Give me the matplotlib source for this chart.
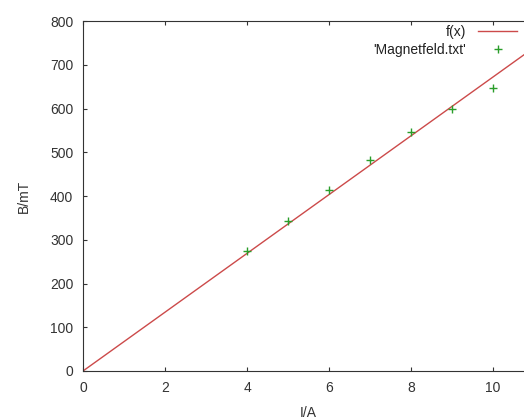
import numpy as np
import matplotlib.pyplot as plt

# measured values from Magnetfeld.txt
current = [4, 5, 6, 7, 8, 9, 10]
field = [274, 343, 413, 482, 547, 600, 648]

# fitted slope of f(x) = a*x
slope = 67.2
x_range = [0, 11]


def plot(I, B, a):
    fig = plt.figure(figsize=(5.24, 4.19), dpi=100)
    ax = fig.add_axes([83 / 524, 1 - 371 / 419, (534 - 83) / 524, 350 / 419])

    xs = np.array(x_range)
    ax.plot(xs, a * xs, color='#cc4a4a', linewidth=1.0, label='f(x)')
    ax.plot(I, B, '+', color='#2a9e2a', markersize=6, markeredgewidth=1.0,
            label="'Magnetfeld.txt'")

    ax.set_xlim(*x_range)
    ax.set_ylim(0, 800)
    ax.set_xticks(range(0, 12, 2))
    ax.set_yticks(range(0, 900, 100))
    ax.tick_params(direction='in', length=3, top=True, right=True,
                   labelsize=10, colors='#333333', pad=7)
    for s in ax.spines.values():
        s.set_color('#333333')

    ax.set_xlabel('I/A', fontsize=10, color='#333333', labelpad=8)
    ax.set_ylabel('B/mT', fontsize=10, color='#333333', labelpad=14)

    ax.legend(loc='upper right', bbox_to_anchor=(517 / 524, 1 - 25 / 419),
              bbox_transform=fig.transFigure, frameon=False, markerfirst=False,
              fontsize=10, handlelength=2.8, labelspacing=0.3, borderpad=0,
              borderaxespad=0, handletextpad=0.85, labelcolor='#222222')

    fig.savefig('out.png', dpi=100)


if __name__ == '__main__':
    plt.rcParams['font.family'] = ['Liberation Sans', 'DejaVu Sans']
    plot(current, field, slope)
